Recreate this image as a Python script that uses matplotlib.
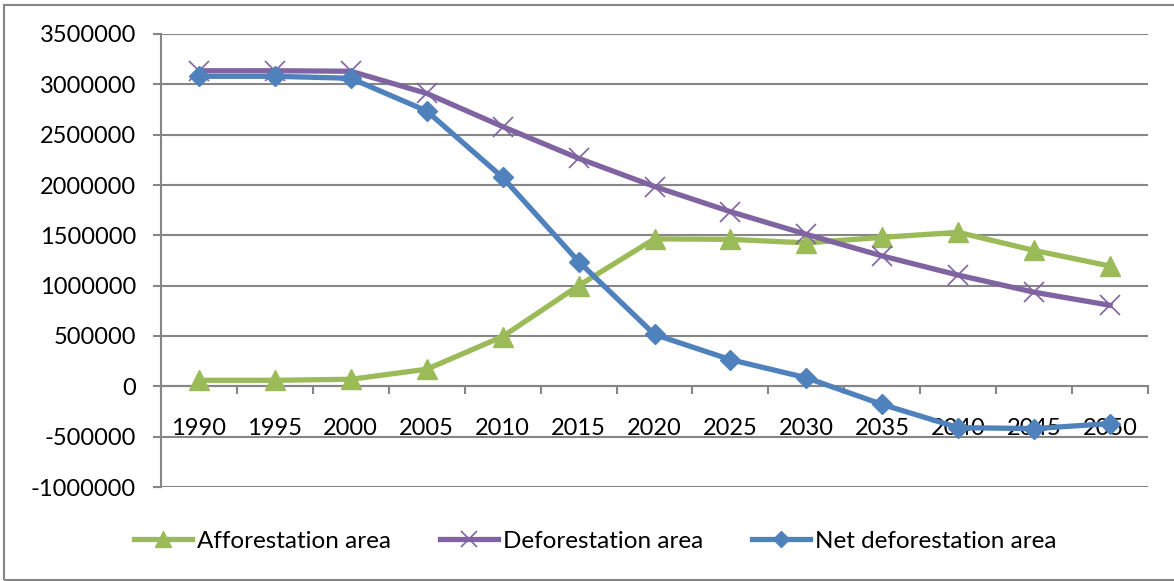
import matplotlib.pyplot as plt
from matplotlib.patches import Rectangle
import numpy as np

plt.rcParams['font.family'] = ['Lato', 'DejaVu Sans']

# data
years = ['1990', '1995', '2000', '2005', '2010', '2015', '2020',
         '2025', '2030', '2035', '2040', '2045', '2050']
afforestation = [60000, 60000, 70000, 170000, 495000, 1000000, 1465000,
                 1460000, 1425000, 1480000, 1530000, 1350000, 1195000]
deforestation = [3135000, 3135000, 3130000, 2910000, 2580000, 2265000, 1985000,
                 1735000, 1510000, 1295000, 1105000, 935000, 805000]
net_deforestation = [3080000, 3080000, 3060000, 2735000, 2075000, 1240000, 515000,
                     265000, 85000, -180000, -410000, -420000, -370000]

green = '#9BBB59'
purple = '#8064A2'
blue = '#4F81BD'
grid_col = '#868686'
fs = 17

fig = plt.figure(figsize=(11.74, 5.81), dpi=100)
ax = fig.add_axes([161/1174, 1 - 487/581, (1148 - 161)/1174, (487 - 34)/581])

x = np.arange(len(years))

ax.plot(x, afforestation, color=green, lw=3.8, marker='^', ms=14,
        mec=green, label='Afforestation area', zorder=3)
ax.plot(x, deforestation, color=purple, lw=3.8, marker='x', ms=15,
        mew=1.2, label='Deforestation area', zorder=3)
ax.plot(x, net_deforestation, color=blue, lw=3.8, marker='D', ms=10,
        mec=blue, label='Net deforestation area', zorder=4)

ax.set_xlim(-0.5, len(years) - 0.5)
ax.set_ylim(-1000000, 3500000)
ax.set_yticks(np.arange(-1000000, 3500001, 500000))
ax.set_yticklabels([str(v) for v in range(-1000000, 3500001, 500000)])
ax.yaxis.grid(True, color=grid_col, lw=1.5)
ax.set_axisbelow(True)

for s in ['top', 'right']:
    ax.spines[s].set_visible(False)
ax.spines['left'].set_color(grid_col)
ax.spines['left'].set_linewidth(1.5)
ax.spines['bottom'].set_position(('data', 0))
ax.spines['bottom'].set_color(grid_col)
ax.spines['bottom'].set_linewidth(1.5)

# tick marks between categories, labels at category centres
ax.set_xticks(np.arange(-0.5, len(years), 1.0))
ax.set_xticklabels([])
ax.tick_params(axis='x', which='major', direction='out', length=6,
               width=1.5, color=grid_col)
ax.set_xticks(x, minor=True)
ax.set_xticklabels(years, minor=True)
ax.tick_params(axis='x', which='minor', length=0, pad=23, labelsize=fs)
ax.tick_params(axis='y', direction='out', length=6, width=1.5,
               color=grid_col, labelsize=fs, pad=12)

fig.legend(loc='center', bbox_to_anchor=(0.507, 1 - 541/581), ncol=3,
           frameon=False, fontsize=17.5, handlelength=2.4, handletextpad=0.2,
           columnspacing=2.0, markerscale=0.8)

fig.patches.append(Rectangle((4/1174, 1 - 580/581), 1.0, (580 - 5)/581,
                             transform=fig.transFigure, fill=False,
                             edgecolor=grid_col, lw=1.5))

fig.savefig('out.png', dpi=100)
